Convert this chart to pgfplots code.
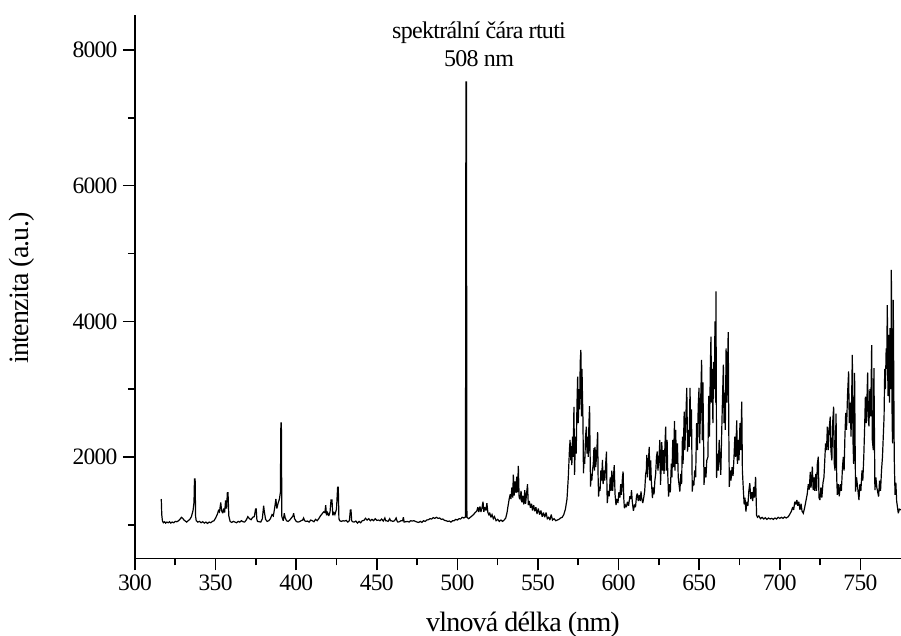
\documentclass[border=0pt]{standalone}
\usepackage{fontspec}
\setmainfont{Liberation Serif}
\usepackage{pgfplots}
\pgfplotsset{compat=1.18}
\begin{document}
\begin{tikzpicture}
\path[use as bounding box] (0,0) rectangle (901pt,636pt);
\begin{axis}[
  at={(135pt,77.5pt)}, anchor=south west, scale only axis,
  width=766pt, height=543.5pt,
  xmin=300, xmax=775.2, ymin=503, ymax=8516,
  axis x line*=bottom, axis y line*=left,
  axis line style={line width=1.6pt,-},
  xtick={300,350,...,750}, minor xtick={325,375,...,725},
  ytick={2000,4000,6000,8000}, minor ytick={1000,3000,5000,7000},
  tick align=outside,
  major tick length=12pt, minor tick length=7pt,
  every tick/.style={line width=1.6pt,black},
  minor tick style={line width=1.6pt,black},
  tick pos=lower,
  /pgf/number format/assume math mode=true,
  /pgf/number format/1000 sep={},
  tick label style={font=\fontsize{23.5}{26}\selectfont\addfontfeatures{LetterSpace=-3}},
  xticklabel style={yshift=-1pt},
  yticklabel style={xshift=-2pt},
  xlabel={vlnová délka (nm)}, ylabel={intenzita (a.u.)},
  label style={font=\fontsize{28}{30}\selectfont\addfontfeatures{LetterSpace=-3}},
  xlabel style={at={(axis description cs:0.5065,-0.121)},anchor=center},
  ylabel style={at={(axis description cs:-0.1475,0.498)},anchor=center},
  clip=true,
]
\addplot[black,line width=1.2pt,line join=miter,miter limit=3] coordinates {
(316.3,1380)(316.6,1150)(317,1060)(317.6,1030)(318.4,1045)(319,1025)(319.8,1040)(320.6,1030)(321.4,1045)(322.2,1025)(323,1040)(324,1030)(325,1050)(326,1045)(327,1060)(328,1085)(328.8,1110)(329.6,1095)(330.4,1070)(331.2,1055)(332,1040)(333,1060)(334,1080)(335,1120)(336,1210)(336.6,1330)(336.9,1675)(337.3,1675)(337.6,1120)(338,1060)(339,1040)(340,1050)(341,1030)(342,1045)(343,1025)(344,1040)(345,1020)(346,1040)(347,1030)(348,1050)(349,1060)(350,1100)(351,1150)(351.8,1210)(352.4,1190)(353.2,1330)(353.7,1210)(354.4,1170)(355,1240)(355.6,1180)(356.2,1360)(356.8,1240)(357.3,1474)(357.7,1474)(358.2,1130)(359,1050)(360,1035)(361,1050)(362,1040)(363,1030)(364,1050)(365,1040)(366,1060)(367,1045)(368,1040)(369,1070)(370,1120)(371,1090)(372,1075)(373,1110)(374,1120)(374.8,1232)(375.2,1232)(375.6,1080)(376,1050)(377,1045)(378,1040)(379,1090)(379.8,1280)(380.2,1200)(381,1080)(382,1050)(383,1060)(384,1090)(385,1150)(385.8,1130)(386.6,1240)(387.4,1380)(388,1240)(388.8,1320)(389.6,1380)(390.2,1480)(390.5,2500)(390.8,2500)(391.1,1120)(392,1060)(392.6,1170)(393.2,1100)(394,1060)(395,1050)(396,1070)(397,1100)(398,1130)(398.4,1170)(399,1090)(400,1050)(401,1040)(402,1045)(403,1060)(404,1070)(404.6,1100)(405.2,1060)(406,1050)(407,1055)(408,1040)(409,1070)(410,1060)(411,1045)(412,1080)(413,1060)(414,1090)(415,1130)(416,1160)(417,1190)(417.8,1180)(418.3,1290)(418.8,1140)(419.5,1180)(420.2,1130)(421,1190)(421.6,1365)(422.2,1365)(422.7,1140)(423.4,1180)(424,1150)(425,1230)(425.7,1555)(426.1,1555)(426.5,1090)(427,1060)(428,1050)(429,1060)(430,1055)(431,1065)(432,1040)(433,1060)(433.6,1220)(434,1220)(434.4,1060)(435,1045)(436,1040)(437,1055)(438,1025)(439,1050)(440,1030)(441,1060)(442,1065)(443,1095)(444,1070)(445,1090)(446,1060)(447,1080)(448,1060)(449,1090)(450,1065)(451,1070)(452,1060)(453,1085)(454,1055)(455,1100)(455.5,1060)(456,1060)(457,1050)(458,1090)(458.5,1060)(459,1060)(460,1050)(461,1060)(462,1100)(462.5,1060)(463,1040)(464,1045)(465,1060)(466,1060)(466.5,1110)(467,1040)(468,1045)(469,1050)(470,1040)(471,1060)(472,1055)(473,1060)(474,1050)(475,1040)(476,1035)(477,1050)(478,1035)(479,1060)(480,1050)(481,1070)(482,1075)(483,1090)(484,1085)(485,1105)(486,1095)(487,1110)(488,1095)(489,1100)(490,1080)(491,1085)(492,1065)(493,1060)(494,1050)(495,1055)(496,1040)(497,1060)(498,1060)(499,1080)(500,1070)(501,1090)(502,1085)(503,1110)(504,1100)(505,1115)(505.3,7530)(505.6,7530)(505.9,1110)(507,1090)(508,1110)(509,1130)(510,1150)(511,1180)(512,1200)(512.7,1260)(513.3,1190)(514,1270)(514.6,1190)(515.2,1240)(515.9,1340)(516.4,1190)(517,1260)(517.7,1210)(518.3,1320)(518.9,1180)(519.5,1150)(520,1180)(520.8,1110)(521.5,1150)(522.3,1090)(523,1120)(524,1060)(525,1080)(526,1050)(527,1070)(528,1050)(529,1070)(530,1100)(530.8,1180)(531.5,1290)(532.2,1390)(532.8,1450)(533.2,1380)(533.8,1550)(534.3,1400)(534.7,1740)(535.2,1430)(535.8,1640)(536.3,1470)(536.8,1710)(537.3,1480)(537.8,1870)(538.3,1400)(538.9,1380)(539.5,1500)(540,1330)(540.6,1430)(541.2,1300)(541.8,1510)(542.3,1310)(543.5,1600)(544,1290)(544.6,1350)(545.3,1250)(546,1310)(546.6,1210)(547.3,1290)(548,1200)(548.7,1260)(549.4,1160)(550.2,1240)(551,1150)(551.8,1210)(552.6,1120)(553.4,1180)(554.2,1110)(555,1180)(555.8,1090)(556.6,1110)(557.4,1070)(558.2,1150)(559,1070)(560,1090)(561,1060)(562,1070)(563,1080)(564,1100)(565,1110)(566,1150)(567,1230)(568,1380)(568.8,1700)(569.5,2100)(569.9,2250)(570.3,1950)(570.7,2160)(571,1880)(571.4,2300)(571.8,2000)(572.3,2740)(572.7,1735)(573.2,2300)(573.7,2050)(574.2,2800)(574.6,3185)(575,2500)(575.4,3000)(575.8,2700)(576.2,3400)(576.6,3580)(577,2600)(577.3,3300)(577.6,2900)(577.9,2545)(578.2,1760)(578.6,2000)(579,1900)(579.5,2300)(580,2447)(580.4,2050)(580.8,2300)(581.2,2000)(581.6,2500)(582,2750)(582.3,2100)(582.6,1562)(583,1750)(583.4,1650)(583.8,1800)(584.3,1900)(584.7,2130)(585,1800)(585.4,2150)(585.8,1850)(586.3,2000)(586.7,2200)(587,2365)(587.3,1700)(587.6,1415)(588,1560)(588.5,1500)(589,1800)(589.4,1650)(590,1955)(590.4,1600)(590.9,1800)(591.4,1650)(592,1900)(592.5,2080)(592.8,1500)(593,1320)(593.6,1500)(594.2,1420)(594.8,1700)(595.3,1500)(595.8,1800)(596.3,1500)(596.8,1700)(597.3,1880)(597.8,1450)(598.4,1290)(599,1380)(599.6,1320)(600.2,1480)(600.8,1400)(601.3,1600)(601.8,1440)(602.4,1700)(602.8,1785)(603.2,1400)(603.6,1245)(604.2,1290)(604.8,1260)(605.5,1340)(606.2,1280)(607,1420)(607.6,1380)(608,1510)(608.5,1340)(609.2,1205)(609.9,1300)(610.5,1260)(611.1,1420)(611.6,1460)(612.2,1350)(612.8,1440)(613.4,1350)(613.9,1490)(614.4,1380)(615,1320)(615.6,1400)(616.2,1500)(616.8,1750)(617.2,1800)(617.5,2030)(617.9,1700)(618.4,1900)(619,2150)(619.4,1650)(619.9,1950)(620.3,1650)(621,1395)(621.5,1550)(622,1450)(622.5,1650)(623,1750)(623.5,2000)(624,2080)(624.4,1800)(625,1950)(625.6,2250)(626,1590)(626.4,1850)(626.8,2220)(627.3,1800)(627.8,2100)(628.2,1750)(628.8,2200)(629.2,2447)(629.6,1800)(630.1,2250)(630.5,1750)(631,1415)(631.6,1600)(632.1,1480)(632.7,1900)(633.1,1700)(633.6,2250)(634,1850)(634.7,2530)(635,1800)(635.4,2400)(635.9,1900)(636.5,2200)(637,1700)(638,1490)(638.6,1750)(639.1,1600)(639.6,2300)(640,1900)(640.7,2670)(641.1,2100)(642.3,3020)(642.8,2080)(643.3,2400)(643.8,2150)(644.3,3020)(644.8,2300)(645.2,2700)(645.7,1490)(646.2,1650)(646.7,1580)(647.2,1800)(647.8,1700)(648.4,2500)(648.9,2100)(649.4,2750)(649.9,3020)(650.3,2200)(650.9,2800)(651.5,3430)(651.9,2250)(652.3,3100)(652.7,2300)(653,1590)(653.6,1850)(654.2,1700)(654.7,1950)(655.4,2000)(655.9,2900)(656.4,2300)(656.9,3300)(657.3,3775)(657.7,2800)(658.1,3300)(658.5,2500)(658.9,3400)(659.4,3000)(659.8,4000)(660.2,2800)(660.4,4440)(660.8,1690)(661.3,2050)(661.8,1800)(662.4,2250)(662.9,1950)(663.4,1735)(663.9,2300)(664.4,2800)(665,3360)(665.4,2500)(665.8,2950)(666.2,2400)(666.7,3600)(667.2,2800)(668,3840)(668.4,2300)(668.7,1560)(669.2,1800)(669.7,1650)(670.4,1850)(671,1720)(671.6,2000)(672.1,2300)(672.6,2000)(673.3,2540)(673.7,1900)(674.2,2250)(674.7,1950)(675.3,2500)(675.8,2100)(676.4,2815)(676.8,1800)(677.4,1510)(677.9,1300)(678.4,1400)(679,1195)(679.6,1340)(680.2,1280)(680.8,1500)(681.4,1615)(682,1380)(682.6,1480)(683.2,1350)(683.8,1560)(684.3,1400)(685,1705)(685.6,1140)(686.2,1110)(687,1130)(688,1090)(689,1110)(690,1085)(691,1105)(692,1080)(693,1100)(694,1085)(695,1095)(696,1080)(697,1100)(698,1085)(699,1110)(700,1095)(701,1110)(702,1095)(703,1115)(704,1100)(705.3,1120)(706.3,1160)(707.2,1200)(708,1260)(708.6,1220)(709.3,1340)(710,1300)(710.6,1365)(711.2,1280)(711.8,1340)(712.5,1220)(713.2,1310)(713.8,1200)(714.6,1170)(715.4,1250)(716.2,1350)(717,1450)(717.7,1600)(718.3,1520)(718.9,1780)(719.4,1550)(720.2,1857)(720.7,1510)(721.2,1700)(721.7,1500)(722.3,1750)(722.8,1500)(723.3,1900)(723.9,2005)(724.3,1400)(724.9,1365)(725.5,1550)(726.1,1400)(726.8,1620)(727.4,1700)(727.9,1950)(728.4,2200)(729,2100)(729.5,2447)(730.1,2100)(730.6,2400)(731.3,2595)(731.7,2100)(732.3,1950)(732.8,2500)(733.4,2740)(733.8,1900)(734.3,1800)(734.9,2640)(735.3,1700)(735.7,1440)(736.3,1600)(736.9,1420)(737.6,1600)(738.2,1500)(738.9,1850)(739.4,2000)(739.9,1800)(740.4,2300)(740.9,2650)(741.4,2400)(742,2900)(742.7,3260)(743.1,2500)(743.7,2800)(744.2,2300)(745,3505)(745.4,2250)(745.8,1900)(746.4,3240)(746.8,2000)(747,1490)(747.6,1700)(748.3,1550)(749.1,1365)(749.7,1600)(750.3,1500)(751,1800)(751.5,1650)(752.1,2000)(752.6,2400)(753.1,2890)(753.7,2500)(754.5,3245)(754.9,2600)(755.3,2450)(755.9,3000)(756.4,2600)(757,3650)(757.4,2250)(758,2100)(758.4,3310)(758.8,2100)(759,1510)(759.6,1700)(760.2,1550)(761.3,1415)(761.9,1650)(762.5,1500)(763.1,1800)(763.7,2000)(764.2,2300)(764.7,2600)(765.1,3300)(765.5,3000)(766,3600)(766.3,3300)(766.7,4240)(767.1,2900)(767.6,3800)(768,2800)(768.4,3900)(768.9,3000)(769.2,4760)(769.7,2500)(770,2200)(770.4,4315)(771,2000)(771.5,1440)(772,1620)(772.5,1350)(773.5,1170)(774.2,1230)(775.2,1220)
};
\end{axis}
\node[font=\fontsize{24}{26}\selectfont\addfontfeatures{LetterSpace=-3},align=center,inner sep=0pt] at (479pt,592pt) {spektrální čára rtuti\\[2pt]508 nm};
\end{tikzpicture}
\end{document}
